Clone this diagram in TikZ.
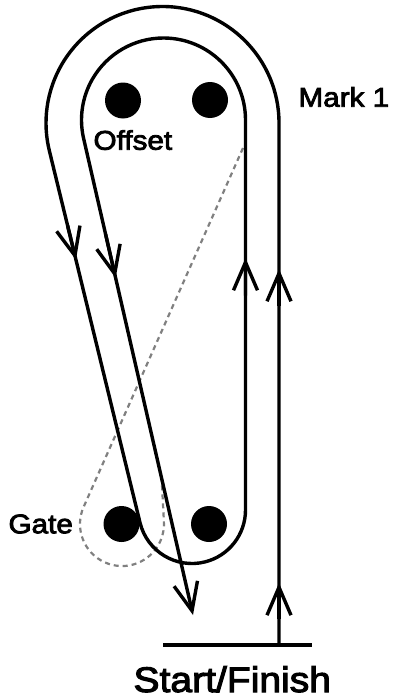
\documentclass[tikz,border=0pt]{standalone}
\usepackage{fontspec}
\setmainfont{Liberation Sans}
\newfontfamily\lblfont{Liberation Sans}[FakeStretch=1.1,FakeBold=3]
\usetikzlibrary{arrows.meta,calc}
\definecolor{gatedash}{gray}{0.5}
\begin{document}
\begin{tikzpicture}[x=1pt,y=-1pt,
  track/.style={line width=3.4pt, line join=round},
  barbtip/.style={-{Straight Barb[length=28pt,width=24pt]}},
  barb/.style={track, barbtip},
  buoy/.style={circle, fill=black, minimum size=36pt, inner sep=0pt},
  lbl/.style={inner sep=0pt, anchor=base west, font=\lblfont\fontsize{27}{27}\selectfont},
  biglbl/.style={inner sep=0pt, anchor=base west, font=\lblfont\fontsize{35.5}{35.5}\selectfont},
  gatepath/.style={draw=gatedash, line width=2.2pt, dash pattern=on 5pt off 4pt}]
\useasboundingbox (0,0) rectangle (398,696);

% buoys
\node[buoy] (offL) at (123,100.5) {};
\node[buoy] (offR) at (210,100) {};
\node[buoy] (gateL) at (121.5,524) {};
\node[buoy] (gateR) at (209,524) {};

% gate (dashed)
\draw[gatepath] (243,148) coordinate (g0) -- (83.6,507) coordinate (g1)
  arc[start angle=203.94, end angle=-4, radius=42] coordinate (g2)
  -- (161.5,476) coordinate (g3);

% start / finish line
\coordinate (sfL) at (163,645);
\coordinate (sfR) at (312,645);
\draw[track] (sfL) -- (sfR);

% course
\coordinate (start) at (279,645);
\coordinate (tip) at (193,615);
\draw[track, barbtip] (start) -- (279,123) coordinate (a1)
  arc[start angle=0, end angle=-194.06, radius=116.5] coordinate (p1)
  -- (140.1,523) coordinate (p2)
  arc[start angle=165.94, end angle=0, radius=53.5] coordinate (u1)
  -- (245.5,120) coordinate (a2)
  arc[start angle=0, end angle=-193.4, radius=82] coordinate (q1)
  -- (tip);

% direction arrows
\draw[barb] ($(start)!0.05!(a1)$) -- ($(start)!0.119!(a1)$);
\draw[barb] ($(start)!0.65!(a1)$) -- ($(start)!0.7203!(a1)$);
\draw[barb] ($(u1)!0.55!(a2)$) -- ($(u1)!0.6462!(a2)$);
\draw[barb] ($(p1)!0.2!(p2)$) -- ($(p1)!0.292!(p2)$);
\draw[barb] ($(q1)!0.2!(tip)$) -- ($(q1)!0.292!(tip)$);

% labels
\node[lbl] (mark) at (298.3,106.7) {Mark 1};
\node[lbl] (offset) at (93.3,149.7) {Offset};
\node[lbl] (gate) at (8.3,533.3) {Gate};
\node[biglbl] (sf) at (133.3,692) {Start/Finish};
\end{tikzpicture}
\end{document}
